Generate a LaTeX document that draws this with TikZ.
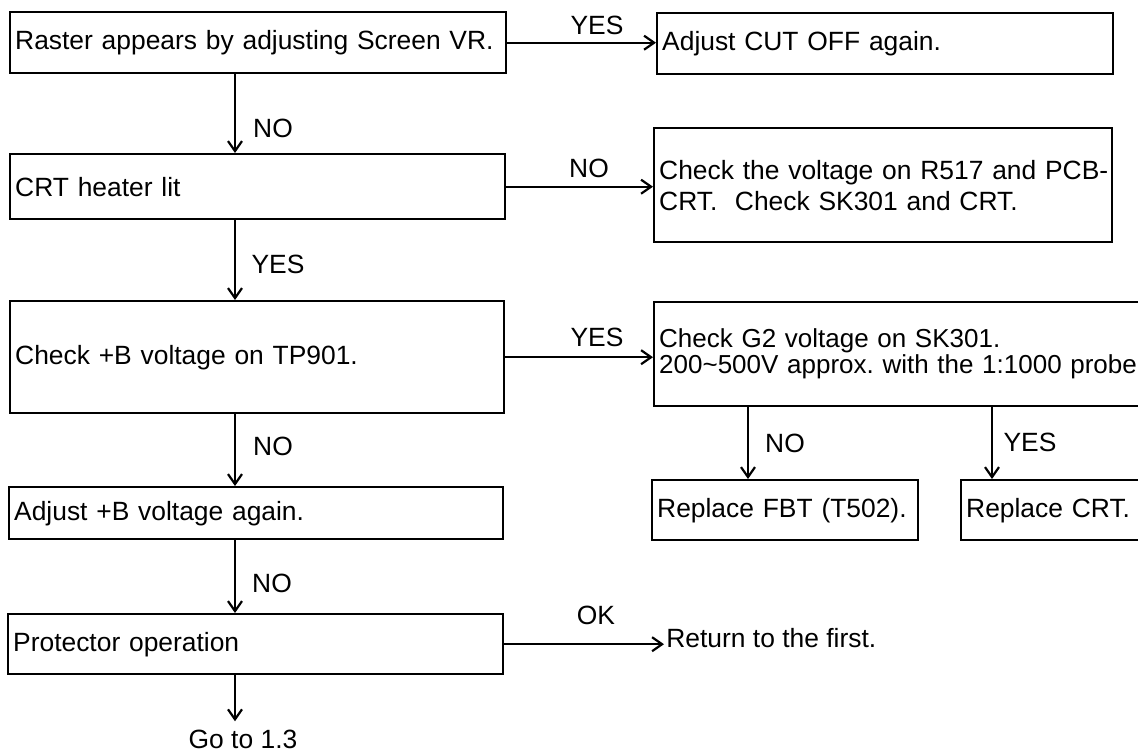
\documentclass[tikz,border=0pt]{standalone}
\usepackage{fontspec}
\setmainfont{Liberation Sans}
\usetikzlibrary{arrows.meta}
\frenchspacing

\begin{document}
\begin{tikzpicture}[
    x=0.5pt, y=-0.5pt,
    font=\fontsize{13.2}{15.5}\selectfont,
    box/.style = {
        draw,
        line width=1.2pt,
        anchor=north west,
        align=left,
        inner xsep=2.5pt,
        inner ysep=2pt
    },
    lbl/.style = {inner sep=1pt},
    arrow/.style = {-{Straight Barb[length=5pt, width=7pt]}, line width=1.1pt}
]

\useasboundingbox (0,0) rectangle (1138,755);

%% ── Columns ─────────────────────────────────────────────────────────────────

\coordinate (trunk) at (235,0);
\coordinate (nox)   at (748,0);
\coordinate (yesx)  at (992,0);

%% ── Boxes ───────────────────────────────────────────────────────────────────

\node[box, text width=243pt,   minimum height=30.5pt] (raster) at (9,11)
    {Raster appears by adjusting Screen VR.};
\node[box, text width=223pt,   minimum height=30.5pt] (cutoff) at (656,12)
    {Adjust CUT OFF again.};

\node[box, text width=242.5pt, minimum height=32.5pt] (heater) at (9,153)
    {CRT heater lit};
\node[box, text width=224pt,   minimum height=57pt]   (checkr) at (653,127)
    {\mbox{Check the voltage on R517 and PCB-}\\CRT.\ \ Check SK301 and CRT.};

\node[box, text width=242pt,   minimum height=56pt]   (tp)     at (9,300)
    {Check +B voltage on TP901.};
\node[box, text width=250pt,   minimum height=52pt, inner ysep=0pt,
      font=\fontsize{13}{13}\selectfont]               (gtwo)   at (653,301)
    {Check G2 voltage on SK301.\\\mbox{200\textasciitilde500V approx. with the 1:1000 probe}};

\node[box, text width=128pt,   minimum height=30pt]   (fbt)    at (651,479)
    {Replace FBT (T502).};
\node[box, text width=110pt,   minimum height=30pt]   (crt)    at (960,479)
    {Replace CRT.};

\node[box, text width=242pt,   minimum height=26pt]   (adjb)   at (8,486)
    {Adjust +B voltage again.};
\node[box, text width=242.5pt, minimum height=30pt]   (prot)   at (7,613)
    {Protector operation};

\node[lbl, anchor=west] (ret) at (664,638) {Return to the first.};
\node[lbl, inner ysep=4pt] (go) at (243,739) {Go to 1.3};

%% ── Arrows ──────────────────────────────────────────────────────────────────

\draw[arrow] (raster.east) -- (cutoff.west |- raster.east);
\draw[arrow] (raster.south -| trunk) -- (heater.north -| trunk);
\draw[arrow] (heater.east) -- (checkr.west |- heater.east);
\draw[arrow] (heater.south -| trunk) -- (tp.north -| trunk);
\draw[arrow] (tp.east) -- (gtwo.west |- tp.east);
\draw[arrow] (tp.south -| trunk) -- (adjb.north -| trunk);
\draw[arrow] (gtwo.south -| nox) -- (fbt.north -| nox);
\draw[arrow] (gtwo.south -| yesx) -- (crt.north -| yesx);
\draw[arrow] (adjb.south -| trunk) -- (prot.north -| trunk);
\draw[arrow] (prot.east) -- (ret.west |- prot.east);
\draw[arrow] (prot.south -| trunk) -- (go.north -| trunk);

%% ── Labels ──────────────────────────────────────────────────────────────────

\node[lbl] (yes1) at (597,25)   {YES};
\node[lbl] (no1)  at (273,128)  {NO};
\node[lbl] (no2)  at (589,168)  {NO};
\node[lbl] (yes2) at (278,264)  {YES};
\node[lbl] (yes3) at (597,337)  {YES};
\node[lbl] (no3)  at (273,446)  {NO};
\node[lbl] (no4)  at (785,443)  {NO};
\node[lbl] (yes4) at (1030,442) {YES};
\node[lbl] (no5)  at (272,583)  {NO};
\node[lbl] (ok)   at (596,615)  {OK};

\end{tikzpicture}
\end{document}
